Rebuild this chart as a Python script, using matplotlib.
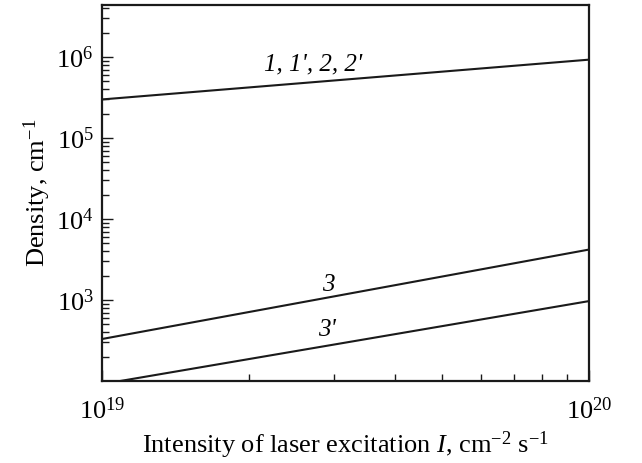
import numpy as np
import matplotlib
matplotlib.use('Agg')
import matplotlib.pyplot as plt
from matplotlib.ticker import LogLocator, NullFormatter, FixedLocator, FixedFormatter

plt.rcParams['font.family'] = ['Liberation Serif', 'DejaVu Serif']
plt.rcParams['mathtext.fontset'] = 'custom'
plt.rcParams['mathtext.rm'] = 'Liberation Serif'
plt.rcParams['mathtext.it'] = 'Liberation Serif:italic'

# intensity, cm^-2 s^-1
intensity = [1e19, 1e20]
dens_1_2 = [3.0e5, 9.3e5]     # curves 1, 1', 2, 2'
dens_3 = [330, 4200]          # curve 3
intensity_3p = [1.09e19, 1e20]
dens_3p = [100, 970]          # curve 3'

labels = ["1, 1', 2, 2'", "3", "3'"]
label_pos = [(2.71e19, 6.9e5), (2.91e19, 1.29e3), (2.9e19, 3.6e2)]

fig = plt.figure(figsize=(6.42, 4.63), dpi=100)
ax = fig.add_axes([102 / 642, 82 / 463, 487 / 642, 376 / 463])

for x, y in [(intensity, dens_1_2), (intensity, dens_3), (intensity_3p, dens_3p)]:
    ax.plot(x, y, color='#1a1a1a', lw=1.5)

for text, (x, y) in zip(labels, label_pos):
    ax.text(x, y, text, fontsize=18, style='italic', ha='center', va='baseline')

ax.set_xscale('log')
ax.set_yscale('log')
ax.set_xlim(1e19, 1e20)
ax.set_ylim(100, 4.4e6)

ax.xaxis.set_major_locator(FixedLocator([1e19, 1e20]))
ax.xaxis.set_major_formatter(FixedFormatter([r'$\mathregular{10^{19}}$', r'$\mathregular{10^{20}}$']))
ax.xaxis.set_minor_locator(LogLocator(base=10, subs=np.arange(2, 10)))
ax.xaxis.set_minor_formatter(NullFormatter())

ax.yaxis.set_major_locator(FixedLocator([1e3, 1e4, 1e5, 1e6]))
ax.yaxis.set_major_formatter(FixedFormatter([r'$\mathregular{10^{%d}}$' % k for k in range(3, 7)]))
ax.yaxis.set_minor_locator(LogLocator(base=10, subs=np.arange(2, 10)))
ax.yaxis.set_minor_formatter(NullFormatter())

ax.tick_params(which='both', direction='in', width=1.0, colors='#1a1a1a', labelcolor='black')
ax.tick_params(which='major', length=8, labelsize=19)
ax.tick_params(which='minor', length=5)
ax.tick_params(axis='x', which='major', pad=12)
ax.tick_params(axis='y', which='major', pad=6)

for s in ax.spines.values():
    s.set_linewidth(1.6)
    s.set_color('#1a1a1a')

ax.set_xlabel(r'Intensity of laser excitation $\mathit{I}$, cm$^{\mathregular{-2}}$ s$^{\mathregular{-1}}$',
              fontsize=19, labelpad=4)
ax.set_ylabel(r'Density, cm$^{\mathregular{-1}}$', fontsize=19, labelpad=2)

fig.savefig('out.png', dpi=100)
